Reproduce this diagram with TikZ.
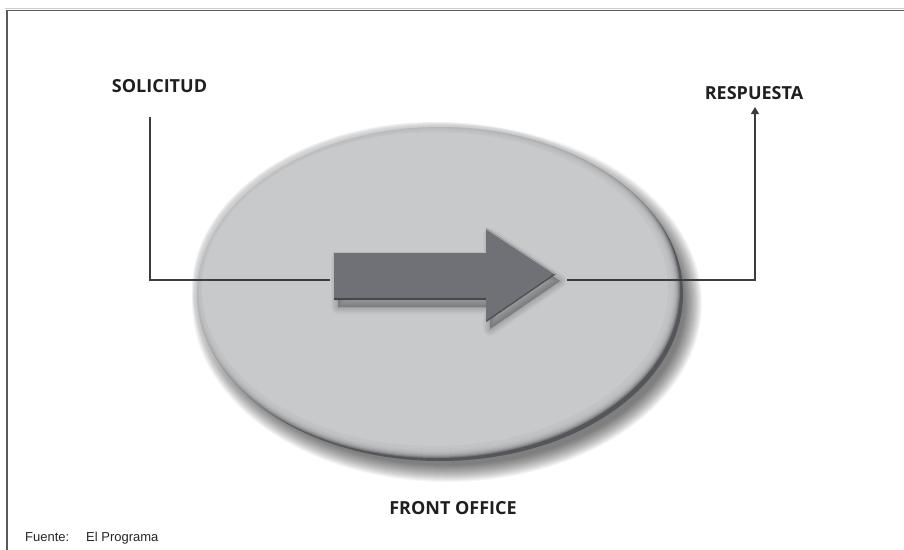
\documentclass[tikz,border=0pt]{standalone}
\usepackage{fontspec}
\setmainfont{Liberation Sans}
\newfontfamily\lblfont{Open Sans}
\usetikzlibrary{arrows.meta}
\definecolor{ellfill}{HTML}{C8C9CB}
\definecolor{rimdark}{HTML}{55565A}
\definecolor{arrfill}{HTML}{707176}
\definecolor{linecol}{HTML}{3C3C3E}
\definecolor{framecol}{HTML}{5A5A5A}
\tikzset{
  lbl/.style={font=\lblfont\bfseries\fontsize{18}{20}\selectfont, text=black!88, inner sep=0pt},
  conn/.style={draw=linecol, line width=1.3pt},
  srcnote/.style={font=\fontsize{13}{15}\selectfont, text=black!85, inner sep=0pt, anchor=base west}
}
\begin{document}
\begin{tikzpicture}[x=1pt,y=-1pt]
\useasboundingbox (0,0) rectangle (904,549);
\fill[white] (0,0) rectangle (904,549);
% frame
\draw[black!20, line width=1pt] (5,8.5) -- (906,8.5);
\draw[framecol, line width=1.5pt] (7,552) |- (906,10.5);
% ellipse shadow
\foreach \i in {0,...,17}{
  \fill[black, opacity=0.035] (447,303) ellipse ({255-\i} and {179-\i});
}
% dark rim
\fill[rimdark] (440,294) ellipse (243 and 167);
% light body with soft edge
\foreach \i in {0,...,9}{
  \fill[ellfill, opacity=0.28] (436,290) ellipse ({244-\i} and {168-\i});
}
\fill[ellfill] (435,289) ellipse (233 and 157);
% arrow shadow
\foreach \w in {14,12,10,8,6,4,2,0}{
  \filldraw[black, fill opacity=0.03, draw opacity=0.025, line join=round, line width=\w pt]
    (338,259) -- (490,259) -- (490,235) -- (560,281) -- (490,329) -- (490,307) -- (338,307) -- cycle;
}
% big arrow
\fill[arrfill] (333,252) -- (486,252) -- (486,228) -- (556,274) -- (486,322) -- (486,300) -- (333,300) -- cycle;
\draw[black!72, line width=1.6pt] (334,299.2) -- (486,299.2);
\draw[black!68, line width=1.4pt] (486.5,321) -- (555,274);
\draw[white!50!arrfill, line width=1pt] (333.5,300) -- (333.5,252.5) -- (486,252.5);
\draw[white!40!arrfill, line width=1pt] (486.5,229) -- (555,274);
% connectors
\coordinate (sol) at (150,117);
\coordinate (solcorner) at (150,280);
\coordinate (arrtail) at (330,280);
\coordinate (arrtip) at (567,280);
\coordinate (rescorner) at (755,280);
\node[lbl] (solicitud) at (159.5,86) {SOLICITUD};
\node[lbl] (respuesta) at (754,93) {RESPUESTA};
\coordinate (resend) at (755,107);
\node[lbl] (front) at (453,508) {FRONT OFFICE};
\node[srcnote] (fuente) at (25,541.4) {Fuente:\hspace{1.3em}El Programa};
\draw[conn] (sol) -- (solcorner) -- (arrtail);
\draw[conn, -{Triangle[length=7pt,width=8pt]}] (arrtip) -- (rescorner) -- (resend);
\end{tikzpicture}
\end{document}
